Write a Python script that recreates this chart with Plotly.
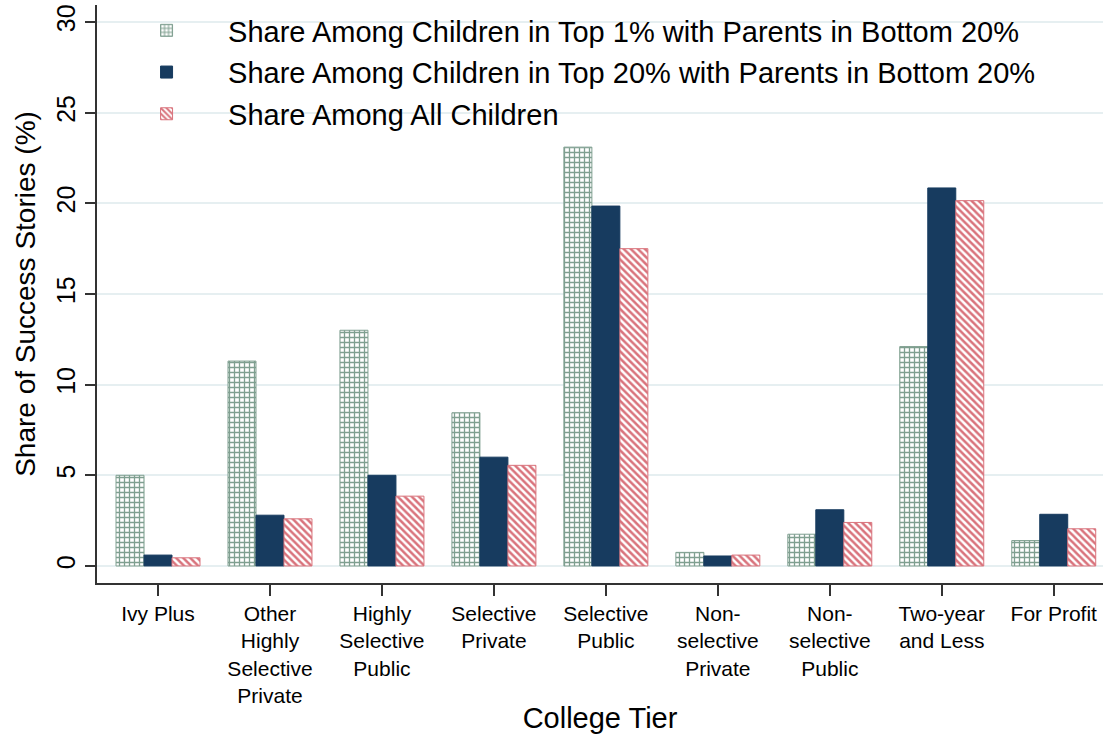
import plotly.graph_objects as go

# college tiers and shares (%)
tiers = ["Ivy Plus", "Other<br>Highly<br>Selective<br>Private", "Highly<br>Selective<br>Public",
         "Selective<br>Private", "Selective<br>Public", "Non-<br>selective<br>Private",
         "Non-<br>selective<br>Public", "Two-year<br>and Less", "For Profit"]
top1_share = [5.0, 11.3, 13.0, 8.45, 23.1, 0.75, 1.75, 12.1, 1.4]
top20_share = [0.6, 2.8, 5.0, 6.0, 19.85, 0.55, 3.1, 20.85, 2.85]
all_share = [0.45, 2.6, 3.85, 5.55, 17.5, 0.6, 2.4, 20.15, 2.05]

xpos = list(range(len(tiers)))
green = "#7f9f90"
navy = "#173b5f"
red = "#d9737c"

fig = go.Figure()
fig.add_trace(go.Bar(
    x=xpos, y=top1_share,
    name="Share Among Children in Top 1% with Parents in Bottom 20%",
    legendgroup="a",
    marker=dict(color=green, line=dict(color=green, width=1),
                pattern=dict(shape="+", fgcolor=green, bgcolor="white",
                             fillmode="replace", size=5, solidity=0.45)),
))
fig.add_trace(go.Bar(
    x=xpos, y=top20_share,
    name="Share Among Children in Top 20% with Parents in Bottom 20%",
    legendgroup="b",
    marker=dict(color=navy, line=dict(color=navy, width=1)),
))
fig.add_trace(go.Bar(
    x=xpos, y=all_share,
    name="Share Among All Children",
    legendgroup="c",
    marker=dict(color=red, line=dict(color=red, width=1),
                pattern=dict(shape="\\", fgcolor=red, bgcolor="white",
                             fillmode="replace", size=5, solidity=0.5)),
))

fig.update_layout(
    width=1106, height=738,
    margin=dict(l=97, r=3, t=5, b=155),
    paper_bgcolor="white", plot_bgcolor="white",
    barmode="group", bargap=0.25, bargroupgap=0,
    font=dict(family="Liberation Sans, Arial, sans-serif", color="black", size=21),
    legend=dict(x=0.008, y=1.0, xanchor="left", yanchor="top",
                bgcolor="rgba(0,0,0,0)", font=dict(size=29),
                tracegroupgap=1, itemwidth=113),
    showlegend=True,
)
fig.update_xaxes(
    range=[-0.545, 8.44],
    tickvals=xpos, ticktext=tiers,
    ticks="outside", ticklen=11, tickwidth=1.5, tickcolor="#333",
    showline=True, linecolor="#333", linewidth=1.5,
    showgrid=False, zeroline=False, automargin=False,
    tickfont=dict(size=21),
    title=dict(text="College Tier", font=dict(size=29), standoff=2),
)
fig.update_yaxes(
    range=[-0.94, 30.94],
    tickvals=[0, 5, 10, 15, 20, 25, 30],
    tickangle=-90, ticklabeloverflow="allow",
    ticks="outside", ticklen=10, tickwidth=1.5, tickcolor="#333",
    showline=True, linecolor="#333", linewidth=1.5,
    showgrid=True, gridcolor="#e6eff1", gridwidth=2, zeroline=False,
    automargin=False,
    tickfont=dict(size=25),
    title=dict(text="Share of Success Stories (%)", font=dict(size=28), standoff=8),
)

# drop the browser's default body margin so the figure fills the window
fig.write_html("out.html", config={"displayModeBar": False},
               post_script="document.body.style.margin='0px';")
